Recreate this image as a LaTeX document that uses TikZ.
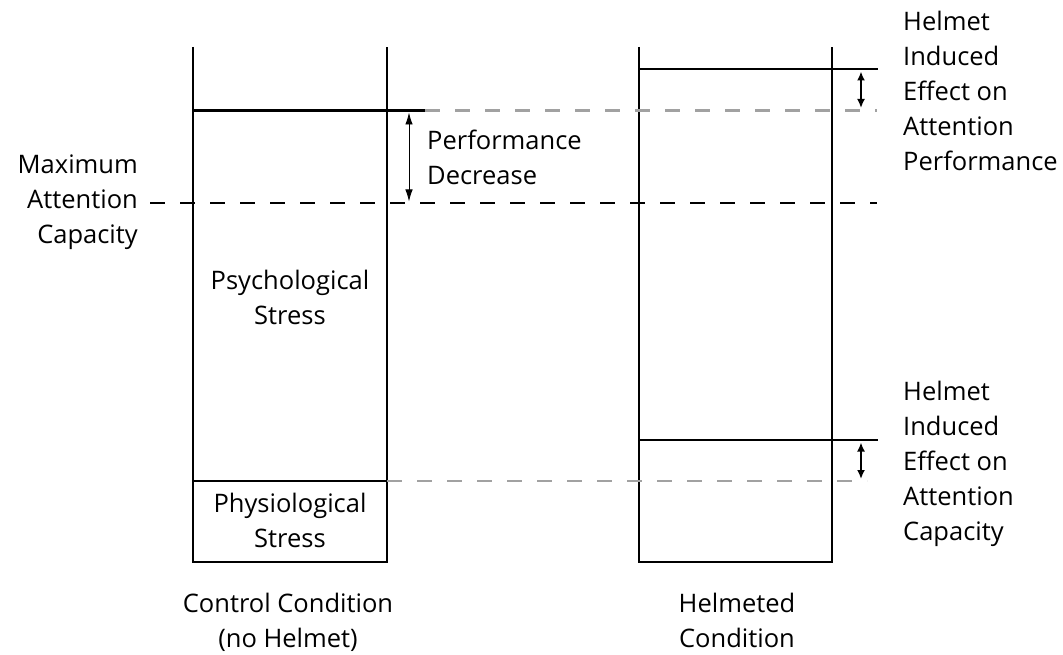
\documentclass[tikz,border=0pt]{standalone}
\usepackage{fontspec}
\setmainfont{Open Sans}
\usetikzlibrary{arrows.meta}
\begin{document}
\begin{tikzpicture}[x=1pt,y=-1pt,
  bar/.style={line width=2.6pt, black},
  grayline/.style={line width=2.6pt, color=black!37, dash pattern=on 15pt off 15pt},
  blackdash/.style={line width=2.6pt, black, dash pattern=on 15pt off 15pt},
  thinarrow/.style={line width=0.9pt, {Latex[length=12pt,width=7.5pt]}-{Latex[length=12pt,width=7.5pt]}},
  thickarrow/.style={line width=1.9pt, {Latex[length=9pt,width=8pt]}-{Latex[length=9pt,width=8pt]}},
  lbl/.style={inner sep=0pt, font=\fontsize{25.5}{35}\selectfont}
]
\useasboundingbox (0,0) rectangle (1063,655);
% control column
\coordinate (cTL) at (193,47);
\coordinate (cBL) at (193,562);
\coordinate (cBR) at (387,562);
\coordinate (cTR) at (387,47);
\draw[bar] (cTL) -- (cBL) -- (cBR) -- (cTR);
% helmeted column
\coordinate (hTL) at (639,47);
\coordinate (hBL) at (639,562);
\coordinate (hBR) at (832,562);
\coordinate (hTR) at (832,47);
\draw[bar] (hTL) -- (hBL) -- (hBR) -- (hTR);
% performance lines
\coordinate (pL) at (193,110.5);
\coordinate (pM) at (425,110.5);
\coordinate (pR) at (877,110.5);
\draw[bar] (pL) -- (pM);
\draw[grayline] (pM) -- (pR);
\coordinate (hpL) at (639,69);
\coordinate (hpR) at (878,69);
\draw[bar] (hpL) -- (hpR);
% maximum attention capacity
\coordinate (mL) at (150,203);
\coordinate (mR) at (877,203);
\draw[blackdash] (mL) -- (mR);
% physiological lines
\coordinate (sL) at (193,481);
\coordinate (sM) at (387,481);
\coordinate (sR) at (867,481);
\draw[bar] (sL) -- (sM);
\draw[grayline] (sM) -- (sR);
\coordinate (hcL) at (639,440);
\coordinate (hcR) at (878,440);
\draw[bar] (hcL) -- (hcR);
% arrows
\coordinate (a1t) at (409,112.5);
\coordinate (a1b) at (409,201.5);
\draw[thinarrow] (a1t) -- (a1b);
\coordinate (a2t) at (861,71.5);
\coordinate (a2b) at (861,108);
\draw[thickarrow] (a2t) -- (a2b);
\coordinate (a3t) at (861,442.5);
\coordinate (a3b) at (861,479);
\draw[thickarrow] (a3t) -- (a3b);
% labels
\node[lbl, anchor=north east, align=right] (maxcap) at (138,155) {Maximum\\Attention\\Capacity};
\node[lbl, anchor=north west, align=left] (perfdec) at (427,129.5) {Performance\\Decrease};
\node[lbl, anchor=north, align=center] (psych) at (290,270) {Psychological\\Stress};
\node[lbl, anchor=north, align=center] (physio) at (290,493) {Physiological\\Stress};
\node[lbl, anchor=north, align=center] (ctrl) at (288,593) {Control Condition\\(no Helmet)};
\node[lbl, anchor=north, align=center] (helm) at (737,593) {Helmeted\\Condition};
\node[lbl, anchor=north west, align=left] (hiep) at (903,11) {Helmet\\Induced\\Effect on\\Attention\\Performance};
\node[lbl, anchor=north west, align=left] (hiec) at (903,381) {Helmet\\Induced\\Effect on\\Attention\\Capacity};
\end{tikzpicture}
\end{document}
